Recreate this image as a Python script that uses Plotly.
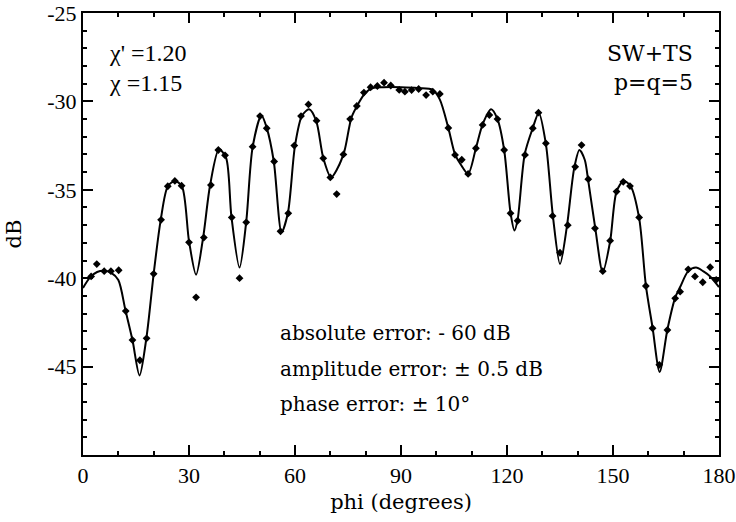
import plotly.graph_objects as go

# Smooth fitted curve
curve_phi = [0, 2, 4, 6, 8, 10, 12, 14, 16, 18, 20, 22, 24, 26, 28, 30, 32, 34, 36, 38.5, 40.5,
             42, 44.3, 46.2, 48, 50.5, 52, 54, 56.2, 58, 60, 62, 64, 66, 68, 70.2, 72, 74, 76, 78,
             80, 82, 85, 90, 95, 99, 101, 103.4, 105.3, 107, 109, 111.2, 113.1, 115.5, 117.3,
             119.2, 121, 122.1, 123, 125, 127.3, 129, 131, 133, 135, 137, 139, 140.5, 142, 143,
             145, 147.1, 149.2, 151, 153, 155, 157.4, 159.3, 161.2, 163.2, 165.4, 167.6, 169,
             171.3, 173.5, 175.5, 177.5, 180]
curve_db = [-40.55, -39.95, -39.65, -39.58, -39.7, -40.1, -41.8, -43.5, -45.5, -43.3, -39.75, -36.7,
            -34.8, -34.5, -34.8, -37.9, -39.8, -37.7, -34.7, -32.7, -33.2,
            -36.5, -39.4, -36.8, -32.6, -30.8, -31.5, -33.4, -37.4, -36.3, -32.5, -30.8, -30.45,
            -31.1, -33.2, -34.3, -33.8, -32.8, -30.9, -30.1,
            -29.5, -29.25, -29.2, -29.2, -29.25, -29.35, -29.9, -31.5, -33.0, -33.6, -34.1, -32.65,
            -31.3, -30.45, -31.0,
            -32.75, -36.3, -37.3, -36.7, -33.0, -31.5, -30.65, -32.4, -36.5, -39.2, -37.0, -33.8,
            -32.75, -33.3, -34.5,
            -37.2, -39.65, -37.9, -35.1, -34.5, -34.8, -36.6, -40.4, -42.8, -45.3, -42.9, -41.1,
            -40.5, -39.6, -39.4, -39.6, -39.9, -40.5]

# Measured points (diamonds)
meas_phi = [2.3, 3.9, 6.0, 7.9, 10.1, 12.1, 14.0, 16.1, 18.0, 20.0, 22.1, 24.0, 26.0, 27.9, 30.0,
            32.0, 34.2, 36.2, 38.3, 40.2, 42.1, 44.3, 46.2, 48.0, 50.1, 52.0, 54.1, 55.9, 58.1,
            59.8, 61.7, 63.8, 66.1, 68.0, 70.0, 71.8, 73.7, 75.6, 77.5, 79.5, 81.4, 83.3, 85.2,
            87.1, 89.5, 91.1, 93.0, 95.0, 97.1, 99.0, 101.0, 103.4, 105.3, 107.2, 109.0, 111.2,
            113.1, 115.0, 117.3, 119.2, 121.0, 123.0, 125.1, 127.3, 128.9, 131.0, 132.9, 135.0,
            137.2, 139.3, 141.1, 143.0, 144.9, 147.1, 149.2, 151.0, 152.9, 154.8, 157.4, 159.3,
            161.2, 163.1, 165.4, 167.6, 169.0, 171.3, 173.2, 175.4, 177.5, 179.2]
meas_db = [-39.9, -39.2, -39.6, -39.6, -39.55, -41.86, -43.5, -44.64, -43.4, -39.75, -36.7, -34.8,
           -34.5, -34.77, -37.97,
           -41.08, -37.7, -34.73, -32.75, -33.05, -36.56, -40.0, -36.84, -32.56, -30.83, -31.52,
           -33.4, -37.35, -36.33,
           -32.5, -30.83, -30.17, -31.09, -33.22, -34.3, -35.24, -33.0, -31.0, -30.26, -29.5,
           -29.2, -29.13, -28.94,
           -29.1, -29.35, -29.45, -29.36, -29.3, -29.64, -29.45, -29.58, -31.5, -33.03, -33.3,
           -34.1, -32.65,
           -31.33, -30.77, -31.0, -32.75, -36.33, -36.75, -33.03, -31.52, -30.64, -32.37, -36.48,
           -38.56,
           -37.0, -33.7, -32.47, -34.4, -37.18, -39.6, -37.88, -35.1, -34.55, -34.79, -36.56,
           -40.44,
           -42.83, -44.9, -42.93, -41.14, -40.76, -39.5, -39.9, -40.23, -39.38, -40.1]

x_ticks = [0, 30, 60, 90, 120, 150, 180]
y_ticks = [-45, -40, -35, -30, -25]
y_ticklabels = ["-45", "-40", "-35", "-30", "-25"]

SERIF = "DejaVu Serif"
TIMES = "Liberation Serif"
TICKFONT = dict(family=TIMES, size=22, color="black")

fig = go.Figure()
fig.add_trace(go.Scatter(x=curve_phi, y=curve_db, mode="lines",
                         line=dict(color="black", width=2, shape="spline", smoothing=0.8),
                         hoverinfo="skip", showlegend=False))
fig.add_trace(go.Scatter(x=meas_phi, y=meas_db, mode="markers",
                         marker=dict(symbol="diamond", size=6, color="black"),
                         showlegend=False))

fig.update_xaxes(range=[0, 180], tickvals=x_ticks, ticks="inside", ticklen=10, tickwidth=1.5,
                 tickcolor="black", showline=True, linecolor="black", linewidth=2,
                 mirror="ticks", showgrid=False, zeroline=False, tickfont=TICKFONT,
                 automargin=False,
                 minor=dict(tickvals=list(range(0, 181, 10)), ticks="inside", ticklen=4,
                            tickwidth=1.5, tickcolor="black", showgrid=False),
                 title=dict(text="phi (degrees)", font=dict(family=SERIF, size=21, color="black"),
                            standoff=7))
fig.update_yaxes(range=[-50, -25], tickvals=y_ticks, ticktext=y_ticklabels, ticks="inside",
                 ticklen=10, tickwidth=1.5, tickcolor="black", showline=True, linecolor="black",
                 linewidth=2, mirror="ticks", showgrid=False, zeroline=False, tickfont=TICKFONT,
                 automargin=False,
                 minor=dict(tickvals=list(range(-50, -24)), ticks="inside", ticklen=4,
                            tickwidth=1.5, tickcolor="black", showgrid=False),
                 title=dict(text="dB", font=dict(family=SERIF, size=21, color="black"),
                            standoff=20))

anns = [
    ("χ' =1.20", 0.038, 0.909, "left", TIMES, 24),
    ("χ =1.15", 0.038, 0.842, "left", TIMES, 24),
    ("SW+TS", 0.962, 0.909, "right", SERIF, 22),
    ("p=q=5", 0.962, 0.842, "right", SERIF, 22),
    ("absolute error: - 60 dB", 0.307, 0.276, "left", SERIF, 20),
    ("amplitude error: ± 0.5 dB", 0.307, 0.195, "left", SERIF, 20),
    ("phase error: ± 10°", 0.307, 0.115, "left", SERIF, 20),
]
for text, ax, ay, anchor, fam, sz in anns:
    fig.add_annotation(text=text, x=ax, y=ay, xref="paper", yref="paper", showarrow=False,
                       xanchor=anchor, yanchor="middle",
                       font=dict(family=fam, size=sz, color="black"))

fig.update_layout(width=736, height=522, margin=dict(l=83, r=17, t=13, b=67),
                  plot_bgcolor="white", paper_bgcolor="white")
fig.write_html("out.html", config={"displayModeBar": False},
               post_script="document.body.style.margin='0';")
